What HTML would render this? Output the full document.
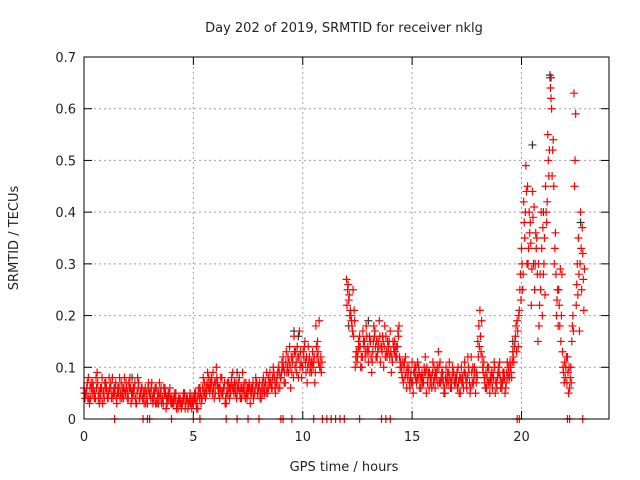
<!DOCTYPE html>
<html><head><meta charset="utf-8">
<style>
html,body{margin:0;padding:0;background:#fff;}
svg{display:block;font-family:"DejaVu Sans","Liberation Sans",sans-serif;}
</style></head>
<body>
<svg id="chart" width="640" height="480" viewBox="0 0 640 480" xmlns="http://www.w3.org/2000/svg">
<text x="344" y="32" font-size="13" text-anchor="middle" fill="#222">Day 202 of 2019, SRMTID for receiver nklg</text>
<text x="344" y="471" font-size="13" text-anchor="middle" fill="#222">GPS time / hours</text>
<text transform="translate(18,238) rotate(-90)" font-size="13" text-anchor="middle" fill="#222">SRMTID / TECUs</text>
<g id="grid"></g>
<g id="axes"></g>
<g id="marks"></g>
<rect x="84" y="57" width="525" height="362" fill="none" stroke="#000" stroke-width="1"/>
</svg>
<script>
const xTicks = [0, 5, 10, 15, 20];
const yTicks = [0, 0.1, 0.2, 0.3, 0.4, 0.5, 0.6, 0.7];
const yTickLabels = ["0", "0.1", "0.2", "0.3", "0.4", "0.5", "0.6", "0.7"];
const segStarts = [0, 2, 4, 5, 7, 9, 12, 12.5, 14.5, 17, 19.5];
const valuesA = [
[.06,.05,.08,.04,.07,.05,.09,.03,.06,.05,.07,.04,.06,.08,.05,.03,.06,.07,.04,.05],
[.05,.08,.04,.06,.03,.07,.05,.04,.06,.03,.05,.07,.04,.06,.03,.05,.04,.06,.03,.05],
[.04,.03,.05,.02,.04,.03,.05,.04,.03,.04],
[.03,.05,.02,.06,.04,.07,.05,.08,.06,.09,.05,.07,.04,.08,.06,.03,.07,.05,.09,.06],
[.05,.08,.04,.06,.07,.05,.03,.06,.05,.07,.06,.04,.08,.07,.05,.09,.06,.08,.07,.10],
[.08,.12,.07,.10,.14,.09,.16,.11,.08,.13,.10,.15,.07,.12,.09,.11,.18,.13,.10],
[.27,.23,.20,.25,.10],
[.12,.16,.10,.14,.18,.11,.15,.13,.17,.12,.19,.14,.10,.16,.13,.17,.11,.15,.12,.18],
[.10,.07,.12,.08,.06,.11,.09,.07,.10,.06,.08,.12,.07,.09,.06,.10,.08,.13,.07,.09,.05,.08,.11,.06,.09],
[.07,.10,.05,.08,.11,.06,.09,.12,.07,.05,.15,.21,.12,.08,.06,.10,.07,.09,.05,.08,.11,.06,.09,.07,.10],
[.10,.13,.15,.19,.21,.33,.42,.49,.30,.38,.44,.25,.35,.18,.40,.28,.45,.55,.66,.47,.30,.20,.25,.15,.10,.08,.12,.06,.15,.63,.22,.35,.40,.32]
];
const valuesB = [
[.04,.07,.03,.06,.05,.08,.04,.06,.03,.07,.05,.08,.04,.05,.07,.06,.04,.05,.08,.06],
[.07,.03,.06,.04,.08,.04,.06,.03,.05,.07,.04,.03,.06,.04,.07,.03,.06,.02,.05,.04],
[.03,.05,.03,.04,.02,.05,.03,.02,.05,.03],
[.05,.02,.06,.03,.08,.04,.09,.05,.07,.04,.10,.05,.08,.05,.03,.07,.04,.08,.05,.07],
[.07,.04,.09,.05,.04,.07,.06,.04,.08,.05,.04,.07,.05,.09,.06,.07,.10,.05,.09,.06],
[.11,.07,.13,.09,.06,.12,.10,.14,.17,.08,.12,.09,.14,.10,.13,.07,.12,.19,.09],
[.25,.20,.18,.21,.13],
[.15,.10,.17,.12,.13,.16,.09,.18,.12,.15,.11,.16,.18,.12,.15,.09,.14,.12,.17,.10],
[.08,.11,.06,.10,.09,.05,.08,.11,.06,.09,.10,.05,.09,.07,.11,.06,.10,.07,.09,.05,.10,.07,.06,.10,.07],
[.09,.05,.10,.06,.08,.12,.05,.07,.10,.09,.18,.13,.09,.06,.10,.05,.08,.11,.07,.10,.06,.09,.05,.11,.08],
[.08,.11,.18,.14,.28,.25,.35,.30,.40,.22,.30,.36,.15,.28,.20,.35,.38,.47,.62,.54,.36,.25,.18,.28,.07,.12,.05,.10,.20,.50,.30,.17,.25,.21]
];
const valuesC = [
[.05,.06,.04,.07,.06,.04,.07,.05,.08,.04,.06,.05,.07,.04,.06,.05,.08,.04,.06,.07],
[.04,.06,.05,.07,.05,.04,.06,.05,.03,.06,.05,.04,.05,.03,.05,.06,.03,.05,.04,.06],
[.03,.04,.02,.04,.03,.04,.02,.04,.04,.02],
[.04,.03,.05,.05,.06,.05,.07,.06,.08,.06,.07,.06,.06,.05,.07,.05,.06,.07,.06,.05],
[.06,.05,.06,.07,.05,.06,.05,.07,.06,.05,.07,.06,.06,.05,.08,.07,.08,.06,.08,.09],
[.09,.10,.11,.12,.10,.11,.13,.09,.12,.11,.13,.11,.10,.09,.11,.12,.14,.11,.12],
[.22,.24,.19,.16,.12],
[.13,.14,.12,.15,.16,.13,.12,.15,.14,.13,.16,.13,.14,.13,.14,.13,.15,.13,.14,.12],
[.09,.10,.09,.09,.08,.07,.10,.08,.09,.08,.07,.09,.08,.08,.09,.08,.09,.10,.08,.07,.08,.09,.08,.08,.07],
[.08,.07,.08,.07,.09,.08,.07,.09,.08,.07,.12,.16,.10,.07,.08,.07,.09,.08,.07,.09,.08,.07,.08,.09,.09],
[.09,.12,.16,.17,.25,.30,.38,.44,.33,.34,.39,.30,.28,.22,.33,.30,.40,.50,.64,.52,.33,.23,.22,.20,.09,.10,.09,.08,.18,.45,.26,.28,.33,.27]
];
const valuesD = [
[.05,.04,.06,.05,.04,.06,.05,.04,.05,.06,.04,.06,.05,.06,.04,.05,.05,.06,.05,.04],
[.06,.05,.05,.03,.06,.05,.04,.05,.04,.05,.06,.05,.03,.05,.04,.04,.05,.04,.04,.03],
[.04,.04,.03,.03,.03,.04,.04,.03,.03,.04],
[.04,.04,.04,.04,.05,.06,.06,.07,.05,.07,.08,.06,.05,.06,.04,.05,.06,.06,.07,.04],
[.06,.06,.05,.04,.06,.06,.05,.05,.07,.06,.05,.05,.07,.06,.07,.06,.09,.07,.06,.08],
[.10,.09,.09,.11,.12,.08,.13,.12,.10,.10,.14,.12,.11,.11,.10,.09,.15,.10,.11],
[.26,.21,.17,.19,.11],
[.14,.12,.15,.13,.14,.15,.11,.16,.15,.14,.14,.15,.12,.15,.12,.12,.13,.14,.16,.11],
[.11,.08,.10,.07,.07,.09,.10,.08,.08,.07,.09,.10,.06,.08,.07,.09,.07,.11,.08,.06,.07,.09,.07,.09,.08],
[.06,.08,.07,.09,.07,.10,.06,.10,.09,.08,.14,.19,.11,.09,.07,.08,.06,.10,.06,.09,.07,.08,.06,.08,.11],
[.11,.14,.13,.20,.23,.28,.40,.45,.36,.29,.41,.33,.30,.25,.37,.24,.42,.52,.60,.45,.28,.18,.29,.13,.11,.07,.10,.07,.17,.59,.24,.30,.37,.29]
];
const zeroTimes = [1.4,2.7,2.9,3.0,4.0,5.0,5.3,6.5,7.0,7.5,8.0,9.0,9.1,9.5,10.5,10.9,11.1,11.3,11.5,11.7,11.9,12.6,13.6,13.8,14.0,19.8,19.9,22.1,22.2,22.8];
const blackTimes = [2.2,7.0,9.6,9.8,12.1,13.0,19.6,20.5,21.0,21.3,21.35,22.7];
const blackValues = [0.08,0.09,0.17,0.16,0.18,0.19,0.15,0.53,0.40,0.665,0.66,0.38];

const X0=84, X1=609, Y0=419, Y1=57, XMAX=24, YMAX=0.7;
const xs = t => X0 + t/XMAX*(X1-X0);
const ys = v => Y0 - v/YMAX*(Y0-Y1);
const NS="http://www.w3.org/2000/svg";
const grid=document.getElementById('grid'), axes=document.getElementById('axes'), marks=document.getElementById('marks');
function mk(tag,attrs,parent){const e=document.createElementNS(NS,tag);for(const k in attrs)e.setAttribute(k,attrs[k]);parent.appendChild(e);return e;}

yTicks.forEach((v,i)=>{
  const y=ys(v);
  if(i>0&&i<yTicks.length-1){const g=mk('line',{x1:X0,x2:X1,y1:y,y2:y,stroke:'#a0a0a0','stroke-dasharray':'2,3'},grid);
  
  }
  const l=mk('line',{x1:X0,x2:X0+8,y1:y,y2:y,stroke:'#000'},axes);
  
  
  const r=mk('line',{x1:X1-8,x2:X1,y1:y,y2:y,stroke:'#000'},axes);
  
  
  const t=mk('text',{x:X0-8,y:y+5,'font-size':13,'text-anchor':'end',fill:'#222'},axes);
  t.textContent=yTickLabels[i];
  
  
});
xTicks.forEach(v=>{
  const x=xs(v);
  if(v>0){const g=mk('line',{x1:x,x2:x,y1:Y1,y2:Y0,stroke:'#a0a0a0','stroke-dasharray':'2,3'},grid);
  
  }
  const l=mk('line',{x1:x,x2:x,y1:Y0,y2:Y0-8,stroke:'#000'},axes);
  
  
  const r=mk('line',{x1:x,x2:x,y1:Y1,y2:Y1+8,stroke:'#000'},axes);
  
  
  const t=mk('text',{x:x,y:Y0+22,'font-size':13,'text-anchor':'middle',fill:'#222'},axes);
  t.textContent=String(v);
  
  
});

function plus(t,v,color){
  const x=xs(t), y=ys(v);
  const p=mk('path',{d:`M${x-4},${y}H${x+4}M${x},${y-4}V${y+4}`,stroke:color,'stroke-width':1.2,fill:'none'},marks);
  
  
}
blackTimes.forEach((t,i)=>plus(t,blackValues[i],'#333'));
segStarts.forEach((s,si)=>{
  valuesA[si].forEach((v,i)=>plus(s+i*0.1,v,'#ff0000'));
  valuesC[si].forEach((v,i)=>plus(s+i*0.1+0.025,v,'#ff0000'));
  valuesB[si].forEach((v,i)=>plus(s+i*0.1+0.05,v,'#ff0000'));
  valuesD[si].forEach((v,i)=>plus(s+i*0.1+0.075,v,'#ff0000'));
});
zeroTimes.forEach(t=>plus(t,0,'#ff0000'));
</script>
</body></html>
